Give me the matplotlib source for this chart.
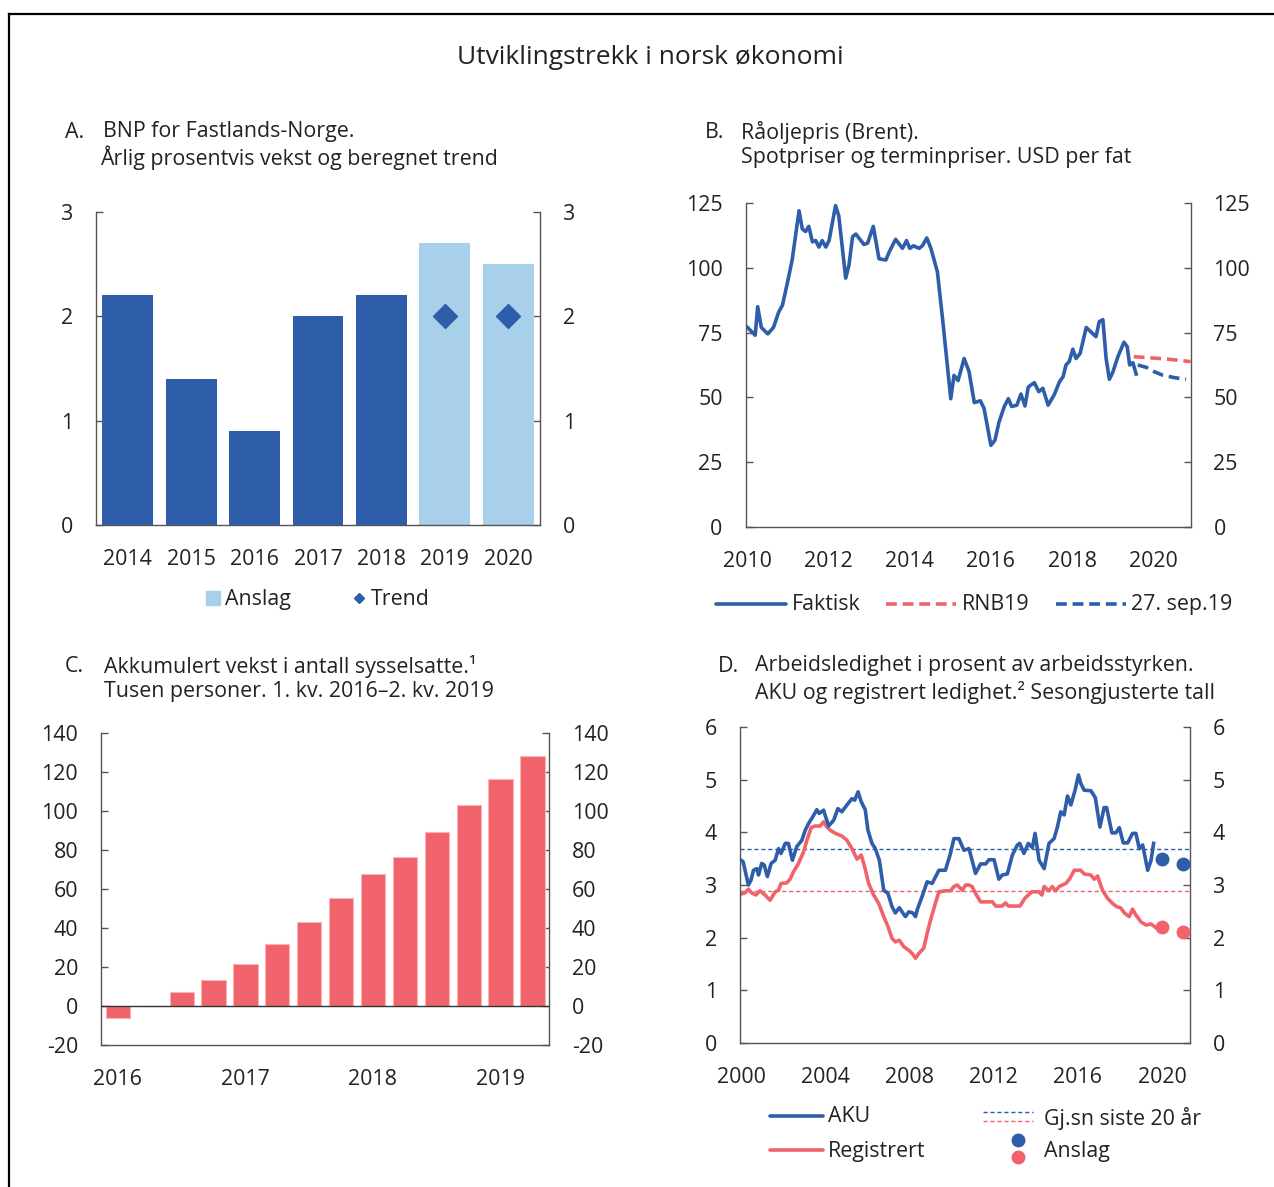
import matplotlib
matplotlib.use("Agg")
import matplotlib.pyplot as plt
from matplotlib.lines import Line2D
from matplotlib.patches import Rectangle

plt.rcParams['font.family'] = ['Open Sans', 'DejaVu Sans']
plt.rcParams['axes.unicode_minus'] = False

W, H = 1274, 1187
DARK = '#2E5DAA'
LIGHT = '#A8D0EA'
RED = '#F0636A'
TXT = '#222222'
SPINE = '#555555'
FS = 15.4

# ---------------- Data ----------------
# A: BNP Fastlands-Norge
a_years = ['2014', '2015', '2016', '2017', '2018', '2019', '2020']
a_growth = [2.2, 1.4, 0.9, 2.0, 2.2, 2.7, 2.5]
a_is_forecast = [False, False, False, False, False, True, True]
a_trend = [None, None, None, None, None, 2.0, 2.0]

# B: Brent spot price (USD per barrel)
brent_t = [2010.0, 2010.19, 2010.25, 2010.34, 2010.50, 2010.64, 2010.77, 2010.86, 2010.98,
           2011.10, 2011.27, 2011.35, 2011.43, 2011.51, 2011.60, 2011.68, 2011.76, 2011.84,
           2011.93, 2012.01, 2012.17, 2012.25, 2012.42, 2012.50, 2012.59, 2012.67, 2012.87,
           2012.96, 2013.10, 2013.24, 2013.41, 2013.49, 2013.65, 2013.82, 2013.92, 2014.00,
           2014.09, 2014.23, 2014.31, 2014.42, 2014.52, 2014.68, 2014.81, 2015.01, 2015.09,
           2015.19, 2015.34, 2015.46, 2015.59, 2015.74, 2015.83, 2016.00, 2016.10, 2016.20,
           2016.33, 2016.43, 2016.51, 2016.64, 2016.74, 2016.84, 2016.92, 2017.07, 2017.18,
           2017.28, 2017.41, 2017.56, 2017.69, 2017.78, 2017.85, 2017.93, 2018.02, 2018.10,
           2018.20, 2018.35, 2018.59, 2018.67, 2018.76, 2018.84, 2018.92, 2019.00, 2019.13,
           2019.28, 2019.36, 2019.42, 2019.50, 2019.58]
brent_v = [77, 74, 85, 77, 74.5, 77, 83, 85.5, 94,
           103, 122, 115, 114, 116, 110, 110.5, 108, 110.5,
           108, 110.5, 124, 120, 96, 101, 112, 113, 109,
           109.5, 116, 103.5, 103, 106, 111, 107.5, 110.5, 107.5,
           108.5, 107.5, 108.5, 111.5, 107.5, 98.5, 80, 49.5, 58.5,
           56.5, 65, 60, 48, 48.7, 45.8, 31.5, 33.5, 40.5,
           46.5, 49.5, 46.5, 47, 51.3, 46.7, 54, 55.7, 52.2,
           53.5, 47, 51, 56, 58, 62.5, 63.8, 68.6, 65,
           67, 77, 73.4, 79.2, 80, 65, 57, 59.5, 65.7,
           71.3, 69.6, 62.5, 63.4, 59]
rnb19_t = [2019.52, 2020.0, 2020.4, 2020.92]
rnb19_v = [65.7, 65.2, 64.7, 63.8]
sep19_t = [2019.62, 2019.83, 2020.03, 2020.23, 2020.53, 2020.81]
sep19_v = [62.5, 61.6, 59.9, 58.6, 57.6, 57.0]

# C: Accumulated employment growth (thousand persons), 2016Q1-2019Q2
c_quarters = ['2016K1', '2016K2', '2016K3', '2016K4', '2017K1', '2017K2', '2017K3', '2017K4',
              '2018K1', '2018K2', '2018K3', '2018K4', '2019K1', '2019K2']
c_values = [-6, 0, 7, 13.3, 21.7, 31.7, 43, 55.3, 67.6, 76.3, 89, 103, 116.5, 128.4]
c_ticklabels = ['2016', '2017', '2018', '2019']

# D: Unemployment (% of labour force)
aku_t = [2000.0, 2000.1, 2000.35, 2000.47, 2000.59, 2000.75, 2000.83, 2000.98, 2001.1, 2001.25,
         2001.43, 2001.62, 2001.78, 2001.9, 2002.1, 2002.25, 2002.44, 2002.65, 2002.89, 2003.05,
         2003.21, 2003.40, 2003.6, 2003.71, 2003.92, 2004.16, 2004.4, 2004.6, 2004.79, 2005.03,
         2005.27, 2005.4, 2005.56, 2005.71, 2005.9, 2006.03, 2006.22, 2006.38, 2006.57, 2006.78,
         2006.98, 2007.17, 2007.33, 2007.52, 2007.65, 2007.81, 2007.97, 2008.16, 2008.29, 2008.37,
         2008.6, 2008.84, 2009.08, 2009.4, 2009.71, 2009.95, 2010.11, 2010.35, 2010.59, 2010.83,
         2011.14, 2011.38, 2011.62, 2011.78, 2012.02, 2012.25, 2012.41, 2012.65, 2012.89, 2013.13,
         2013.24, 2013.44, 2013.65, 2013.84, 2013.97, 2014.16, 2014.40, 2014.63, 2014.87, 2015.03,
         2015.19, 2015.35, 2015.51, 2015.67, 2015.87, 2016.03, 2016.14, 2016.30, 2016.62, 2016.83,
         2017.05, 2017.25, 2017.37, 2017.62, 2017.81, 2017.97, 2018.16, 2018.37, 2018.60, 2018.76,
         2018.92, 2019.08, 2019.32, 2019.48, 2019.60]
aku_v = [3.47, 3.44, 3.0, 3.09, 3.28, 3.31, 3.19, 3.41, 3.38, 3.16,
         3.41, 3.47, 3.69, 3.6, 3.79, 3.79, 3.47, 3.73, 3.85, 4.04,
         4.17, 4.29, 4.43, 4.36, 4.42, 4.12, 4.23, 4.45, 4.39, 4.52,
         4.64, 4.61, 4.77, 4.58, 4.43, 4.04, 3.79, 3.69, 3.47, 2.90,
         2.84, 2.59, 2.47, 2.57, 2.49, 2.40, 2.49, 2.47, 2.40, 2.53,
         2.78, 3.06, 3.03, 3.28, 3.28, 3.60, 3.88, 3.88, 3.66, 3.69,
         3.22, 3.40, 3.40, 3.48, 3.48, 3.11, 3.19, 3.21, 3.57, 3.76,
         3.79, 3.60, 3.79, 3.71, 3.98, 3.47, 3.31, 3.79, 3.88, 4.10,
         4.39, 4.33, 4.69, 4.52, 4.80, 5.09, 4.93, 4.80, 4.79, 4.66,
         4.10, 4.47, 4.47, 3.99, 3.99, 4.09, 3.80, 3.80, 3.98, 3.98,
         3.69, 3.76, 3.28, 3.47, 3.79]
reg_t = [2000.0, 2000.19, 2000.35, 2000.51, 2000.70, 2000.9, 2001.14, 2001.38, 2001.62, 2001.78,
         2001.9, 2002.17, 2002.33, 2002.49, 2002.73, 2002.97, 2003.13, 2003.33, 2003.52, 2003.76,
         2003.92, 2004.08, 2004.24, 2004.48, 2004.79, 2005.03, 2005.27, 2005.51, 2005.71, 2005.87,
         2006.06, 2006.30, 2006.54, 2006.78, 2006.98, 2007.17, 2007.33, 2007.52, 2007.73, 2007.97,
         2008.13, 2008.29, 2008.44, 2008.68, 2008.84, 2009.0, 2009.21, 2009.40, 2009.71, 2009.95,
         2010.11, 2010.27, 2010.51, 2010.67, 2010.83, 2010.98, 2011.14, 2011.38, 2011.94, 2012.1,
         2012.41, 2012.56, 2012.71, 2013.25, 2013.49, 2013.81, 2014.16, 2014.29, 2014.40, 2014.63,
         2014.79, 2014.95, 2015.11, 2015.43, 2015.62, 2015.83, 2016.14, 2016.30, 2016.62, 2016.78,
         2016.94, 2017.17, 2017.41, 2017.65, 2017.84, 2018.05, 2018.21, 2018.44, 2018.6, 2018.76,
         2019.0, 2019.24, 2019.48, 2019.71]
reg_v = [2.83, 2.85, 2.92, 2.85, 2.81, 2.89, 2.81, 2.71, 2.87, 2.90,
         3.03, 3.04, 3.11, 3.25, 3.41, 3.63, 3.85, 4.09, 4.12, 4.12,
         4.20, 4.10, 4.04, 3.98, 3.93, 3.85, 3.69, 3.49, 3.57, 3.35,
         3.03, 2.81, 2.65, 2.40, 2.21, 1.99, 1.92, 1.95, 1.83, 1.76,
         1.70, 1.61, 1.70, 1.80, 2.08, 2.33, 2.62, 2.87, 2.89, 2.89,
         2.97, 3.00, 2.90, 3.00, 3.00, 2.97, 2.84, 2.68, 2.68, 2.60,
         2.60, 2.66, 2.60, 2.60, 2.75, 2.87, 2.87, 2.81, 2.97, 2.89,
         2.97, 2.89, 2.97, 3.03, 3.12, 3.28, 3.28, 3.21, 3.19, 3.11,
         3.17, 2.90, 2.75, 2.65, 2.59, 2.56, 2.47, 2.40, 2.54, 2.43,
         2.30, 2.24, 2.26, 2.19]
aku_avg = 3.69
reg_avg = 2.89
anslag_t = [2020.0, 2021.0]
aku_anslag = [3.5, 3.4]
reg_anslag = [2.2, 2.1]

# ---------------- Helpers ----------------
def fx(x):
    return x / W

def fy(y):
    return 1 - y / H

def axes_px(fig, left, top, right, bottom):
    return fig.add_axes([fx(left), fy(bottom), (right - left) / W, (bottom - top) / H])

def style(ax, yticks, xpad=17):
    for s in ['left', 'right', 'bottom']:
        ax.spines[s].set_color(SPINE)
        ax.spines[s].set_linewidth(1.0)
    ax.spines['top'].set_visible(False)
    ax.set_yticks(yticks)
    ax.tick_params(axis='y', which='both', left=True, right=True, labelleft=True,
                   labelright=True, direction='in', length=5, width=1, color=SPINE,
                   pad=16.5, labelsize=FS, labelcolor=TXT)
    ax.tick_params(axis='x', length=0, pad=xpad, labelsize=FS, labelcolor=TXT)

def ftext(fig, x, y, s, size=FS, **kw):
    fig.text(fx(x), fy(y), s, fontsize=size, color=TXT, va='center', **kw)

def fline(fig, x0, x1, y, **kw):
    fig.add_artist(Line2D([fx(x0), fx(x1)], [fy(y), fy(y)], transform=fig.transFigure, **kw))

fig = plt.figure(figsize=(W / 100, H / 100), dpi=100)

# frame lines
fig.add_artist(Line2D([fx(8.5), fx(8.5)], [fy(14), 0], transform=fig.transFigure, color='black', lw=1.6))
fig.add_artist(Line2D([fx(8.5), 1], [fy(14), fy(14)], transform=fig.transFigure, color='black', lw=1.6))

ftext(fig, 650, 58, 'Utviklingstrekk i norsk økonomi', size=19, ha='center')

# ---------------- Panel A ----------------
axA = axes_px(fig, 96, 212, 540, 525)
xa = list(range(len(a_years)))
colsA = [LIGHT if f else DARK for f in a_is_forecast]
axA.bar(xa, a_growth, width=0.8, color=colsA, zorder=2)
tx = [i for i, v in enumerate(a_trend) if v is not None]
tv = [v for v in a_trend if v is not None]
axA.plot(tx, tv, 'D', color=DARK, ms=12.5, zorder=3)
axA.set_xlim(-0.5, 6.5)
axA.set_ylim(0, 3)
axA.set_xticks(xa)
axA.set_xticklabels(a_years)
style(axA, [0, 1, 2, 3])

ftext(fig, 65, 132, 'A.')
ftext(fig, 103, 132, 'BNP for Fastlands-Norge.')
ftext(fig, 100, 158, 'Årlig prosentvis vekst og beregnet trend')

fig.add_artist(Rectangle((fx(206), fy(605)), 14 / W, 14 / H, transform=fig.transFigure,
                         color=LIGHT))
ftext(fig, 225, 600, 'Anslag')
fig.add_artist(Line2D([fx(359)], [fy(598)], transform=fig.transFigure, marker='D',
                      color=DARK, ms=5.5, lw=0))
ftext(fig, 371, 600, 'Trend')

# ---------------- Panel B ----------------
axB = axes_px(fig, 745.5, 203, 1190.5, 527)
axB.plot(brent_t, brent_v, color=DARK, lw=2.6, solid_joinstyle='round', zorder=3)
axB.plot(rnb19_t, rnb19_v, color=RED, lw=2.6, dashes=(3, 1.6), zorder=2)
axB.plot(sep19_t, sep19_v, color=DARK, lw=2.6, dashes=(3, 1.6), zorder=2)
axB.set_xlim(2009.95, 2020.92)
axB.set_ylim(0, 125)
axB.set_xticks([2010, 2012, 2014, 2016, 2018, 2020])
axB.set_xticklabels(['2010', '2012', '2014', '2016', '2018', '2020'])
style(axB, [0, 25, 50, 75, 100, 125])

ftext(fig, 705, 132, 'B.')
ftext(fig, 741, 132, 'Råoljepris (Brent).')
ftext(fig, 741, 158, 'Spotpriser og terminpriser. USD per fat')

fline(fig, 716, 786, 604, color=DARK, lw=2.6, solid_capstyle='round')
ftext(fig, 792, 605, 'Faktisk')
fline(fig, 886, 956, 604, color=RED, lw=2.6, dashes=(3, 1.6))
ftext(fig, 962, 605, 'RNB19')
fline(fig, 1056, 1126, 604, color=DARK, lw=2.6, dashes=(3, 1.6))
ftext(fig, 1131, 605, '27. sep.19')

# ---------------- Panel C ----------------
axC = axes_px(fig, 101, 733, 549, 1045)
xc = list(range(len(c_values)))
axC.bar(xc, c_values, width=0.76, color=RED, edgecolor='#F7B3B6', linewidth=0.8, zorder=2)
axC.axhline(0, color='#333333', lw=1.0, zorder=3)
axC.set_xlim(-0.53, 13.52)
axC.set_ylim(-20, 140)
axC.set_xticks([0, 4, 8, 12])
axC.set_xticklabels(c_ticklabels)
style(axC, list(range(-20, 141, 20)))

ftext(fig, 65, 666, 'C.')
ftext(fig, 104, 666, 'Akkumulert vekst i antall sysselsatte.¹')
ftext(fig, 104, 692, 'Tusen personer. 1. kv. 2016–2. kv. 2019')

# ---------------- Panel D ----------------
axD = axes_px(fig, 740, 727, 1190, 1043)
axD.axhline(aku_avg, color=DARK, lw=1.0, dashes=(3, 2), zorder=1)
axD.axhline(reg_avg, color=RED, lw=1.0, dashes=(3, 2), zorder=1)
axD.plot(reg_t, reg_v, color=RED, lw=2.6, zorder=2)
axD.plot(aku_t, aku_v, color=DARK, lw=2.6, zorder=3)
axD.plot(anslag_t, aku_anslag, 'o', color=DARK, ms=9, zorder=4)
axD.plot(anslag_t, reg_anslag, 'o', color=RED, ms=9, zorder=4)
axD.set_xlim(1999.95, 2021.33)
axD.set_ylim(0, 6)
axD.set_xticks([2000, 2004, 2008, 2012, 2016, 2020])
axD.set_xticklabels(['2000', '2004', '2008', '2012', '2016', '2020'])
style(axD, [0, 1, 2, 3, 4, 5, 6])

ftext(fig, 718, 666, 'D.')
ftext(fig, 755, 666, 'Arbeidsledighet i prosent av arbeidsstyrken.')
ftext(fig, 755, 692, 'AKU og registrert ledighet.² Sesongjusterte tall')

fline(fig, 770, 823, 1116, color=DARK, lw=2.6, solid_capstyle='round')
ftext(fig, 828, 1117, 'AKU')
fline(fig, 770, 823, 1150, color=RED, lw=2.6, solid_capstyle='round')
ftext(fig, 828, 1151, 'Registrert')
fline(fig, 983, 1033, 1112, color=DARK, lw=1.0, dashes=(3, 2))
fline(fig, 983, 1033, 1121, color=RED, lw=1.0, dashes=(3, 2))
ftext(fig, 1044, 1118, 'Gj.sn siste 20 år')
fig.add_artist(Line2D([fx(1018)], [fy(1140)], transform=fig.transFigure, marker='o',
                      color=DARK, ms=9, lw=0))
fig.add_artist(Line2D([fx(1018)], [fy(1157)], transform=fig.transFigure, marker='o',
                      color=RED, ms=9, lw=0))
ftext(fig, 1044, 1151, 'Anslag')

fig.savefig('out.png', dpi=100, facecolor='white')
